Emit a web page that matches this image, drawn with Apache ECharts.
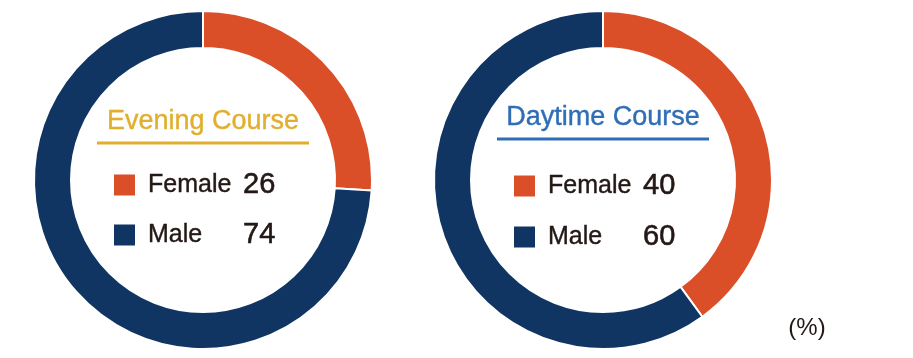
<!DOCTYPE html>
<html>
<head>
<meta charset="utf-8">
<script src="https://cdn.jsdelivr.net/npm/echarts@6/dist/echarts.min.js"></script>
<style>
html,body{margin:0;padding:0;background:#fff;}
#chart{width:913px;height:358px;}
</style>
</head>
<body>
<div id="chart"></div>
<script>
// ---- data ----
var courses = ['Evening Course', 'Daytime Course'];
var categories = ['Female', 'Male'];
var eveningValues = [26, 74];
var daytimeValues = [40, 60];
var unitLabel = '(%)';

// ---- styling / layout ----
var sliceColors = ['#DA4F28', '#103562'];
var titleColors = ['#E1AE2E', '#2F6DB6'];
var textColor = '#231815';
var centers = [[203, 180], [603, 180]];
var titleY = [122, 118];
var lineY = [143, 139];
var rowY = [[185, 235], [186, 237]];
var font = '"Liberation Sans", Arial, Helvetica, sans-serif';

var valuesList = [eveningValues, daytimeValues];
var chart = echarts.init(document.getElementById('chart'));

var series = [];
var graphic = [];
courses.forEach(function (course, i) {
  var cx = centers[i][0], cy = centers[i][1];
  series.push({
    type: 'pie',
    name: course,
    center: [cx, cy],
    radius: [132, 169],
    startAngle: 90,
    clockwise: true,
    label: { show: false },
    labelLine: { show: false },
    emphasis: { disabled: true },
    silent: true,
    itemStyle: { borderColor: '#ffffff', borderWidth: 2 },
    data: categories.map(function (c, k) {
      return { name: c, value: valuesList[i][k], itemStyle: { color: sliceColors[k] } };
    })
  });
  graphic.push({
    type: 'text', x: cx, y: titleY[i],
    style: { text: course, fill: titleColors[i], stroke: titleColors[i], lineWidth: 0.4, font: '27px ' + font, textAlign: 'center', textVerticalAlign: 'middle' }
  });
  graphic.push({
    type: 'rect', shape: { x: cx - 106, y: lineY[i] - 1.5, width: 212, height: 3 },
    style: { fill: titleColors[i] }
  });
  categories.forEach(function (c, k) {
    var y = rowY[i][k];
    graphic.push({
      type: 'rect', shape: { x: cx - 89, y: y - 10.5, width: 21, height: 21 },
      style: { fill: sliceColors[k] }
    });
    graphic.push({
      type: 'text', x: cx - 55, y: y,
      style: { text: c, fill: textColor, stroke: textColor, lineWidth: 0.4, font: '25px ' + font, textAlign: 'left', textVerticalAlign: 'middle' }
    });
    graphic.push({
      type: 'text', x: cx + 40, y: y,
      style: { text: String(valuesList[i][k]), fill: textColor, stroke: textColor, lineWidth: 0.6, font: '29px ' + font, textAlign: 'left', textVerticalAlign: 'middle' }
    });
  });
});
graphic.push({
  type: 'text', x: 807, y: 328,
  style: { text: unitLabel, fill: textColor, font: '24px ' + font, textAlign: 'center', textVerticalAlign: 'middle' }
});

chart.setOption({
  animation: false,
  backgroundColor: '#ffffff',
  series: series,
  graphic: graphic
});
</script>
</body>
</html>
